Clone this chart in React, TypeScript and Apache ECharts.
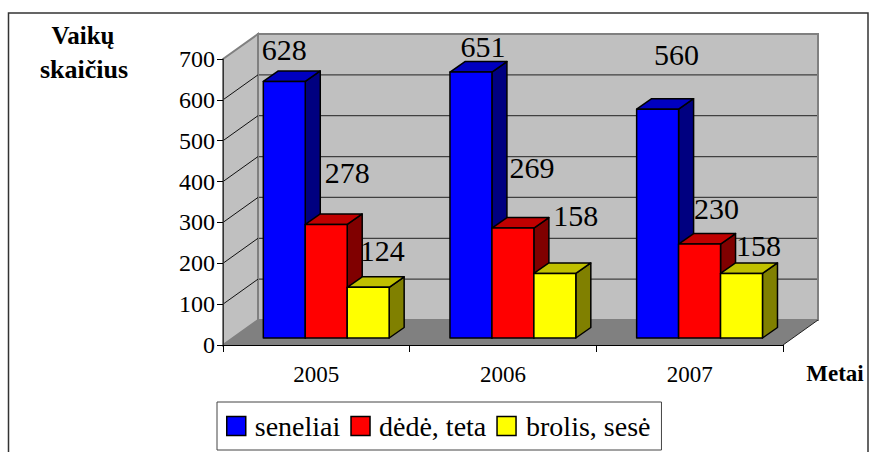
import React, { useEffect, useRef } from "react";
import * as echarts from "echarts";

const categories = ["2005", "2006", "2007"];
const seriesNames = ["seneliai", "dėdė, teta", "brolis, sesė"];
const seneliai = [628, 651, 560];
const dedeTeta = [278, 269, 230];
const brolisSese = [124, 158, 158];
const yTicks = [0, 100, 200, 300, 400, 500, 600, 700];
const xTitle = "Metai";
const yTitle = ["Vaikų", "skaičius"];

const seriesValues = [seneliai, dedeTeta, brolisSese];
const faceColors = [
  { front: "#0000ff", top: "#0000c0", side: "#000080" },
  { front: "#ff0000", top: "#c00000", side: "#800000" },
  { front: "#ffff00", top: "#c0c000", side: "#808000" },
];
// hand-placed label offsets from the top-front centre of each bar
const labelOffsets = [
  [[0, -32], [12, -26], [19, -55]],
  [[21, -52], [19, -61], [17, -36]],
  [[14, -37], [21, -58], [17, -28]],
];
// legend text paddings per item: [top, right, bottom, left]
const legendTextPadding = [[0, 0, 0, 4], [0, 0, 0, 4], [0, 0, 0, 5]];

const FONT = '"Liberation Serif", "Times New Roman", serif';
const WALL = { dx: 35, dy: -25 };
const BAR_FRONT = { dx: 9.9, dy: -7 };
const BAR_DEPTH = { dx: 15, dy: -10.5 };
const BAR_DIVISOR = 4.45;

function wallsRender(params: any, api: any) {
  const cs = params.coordSys;
  const x0 = cs.x;
  const x1 = cs.x + cs.width;
  const yBase = api.coord([0, 0])[1];
  const yTop = api.coord([0, yTicks[yTicks.length - 1]])[1];
  const { dx, dy } = WALL;
  const children: any[] = [
    {
      type: "polygon",
      shape: { points: [[x0 + dx, yTop + dy], [x1 + dx, yTop + dy], [x1 + dx, yBase + dy], [x0 + dx, yBase + dy]] },
      style: { fill: "#c0c0c0", stroke: "#808080", lineWidth: 2 },
    },
    {
      type: "polygon",
      shape: { points: [[x0, yTop], [x0 + dx, yTop + dy], [x0 + dx, yBase + dy], [x0, yBase]] },
      style: { fill: "#c0c0c0", stroke: "#808080", lineWidth: 2 },
    },
    {
      type: "polygon",
      shape: { points: [[x0, yBase], [x0 + dx, yBase + dy], [x1 + dx, yBase + dy], [x1, yBase]] },
      style: { fill: "#808080" },
    },
    {
      type: "line",
      shape: { x1: x1, y1: yBase, x2: x1 + dx, y2: yBase + dy },
      style: { stroke: "#222222", lineWidth: 1 },
    },
  ];
  yTicks.slice(1, -1).forEach((t) => {
    const y = api.coord([0, t])[1];
    children.push({
      type: "polyline",
      shape: { points: [[x0, y], [x0 + dx, y + dy]] },
      style: { stroke: "#111111", lineWidth: 1, fill: "none" },
    });
    children.push({
      type: "line",
      shape: { x1: x0 + dx + 1, y1: y + dy, x2: x1 + dx - 1, y2: y + dy },
      style: { stroke: "#404040", lineWidth: 1.3 },
    });
  });
  return { type: "group", children };
}

function barRender(seriesIdx: number) {
  return (params: any, api: any) => {
    const cat = api.value(0);
    const val = api.value(1);
    const cx = api.coord([cat, 0])[0];
    const band = api.size([1, 0])[0];
    const w = band / BAR_DIVISOR;
    const left = cx + (seriesIdx - 1.5) * w + BAR_FRONT.dx;
    const right = left + w;
    const bottom = api.coord([cat, 0])[1] + BAR_FRONT.dy;
    const top = api.coord([cat, val])[1] + BAR_FRONT.dy;
    const { dx, dy } = BAR_DEPTH;
    const c = faceColors[seriesIdx];
    const edge = { stroke: "#000000", lineWidth: 1.5, lineJoin: "round" };
    return {
      type: "group",
      children: [
        {
          type: "polygon",
          shape: { points: [[right, top], [right + dx, top + dy], [right + dx, bottom + dy], [right, bottom]] },
          style: { fill: c.side, ...edge },
        },
        {
          type: "polygon",
          shape: { points: [[left, top], [left + dx, top + dy], [right + dx, top + dy], [right, top]] },
          style: { fill: c.top, ...edge },
        },
        {
          type: "polygon",
          shape: { points: [[left, top], [right, top], [right, bottom], [left, bottom]] },
          style: { fill: c.front, ...edge },
        },
      ],
    };
  };
}

function labelRender(seriesIdx: number) {
  return (params: any, api: any) => {
    const cat = api.value(0);
    const val = api.value(1);
    const cx = api.coord([cat, 0])[0];
    const w = api.size([1, 0])[0] / BAR_DIVISOR;
    const centre = cx + (seriesIdx - 1) * w + BAR_FRONT.dx;
    const top = api.coord([cat, val])[1] + BAR_FRONT.dy;
    const off = labelOffsets[seriesIdx][params.dataIndex];
    return {
      type: "text",
      z2: 50,
      style: {
        text: String(val),
        x: centre + off[0],
        y: top + off[1],
        align: "center",
        verticalAlign: "middle",
        fontFamily: FONT,
        fontSize: 30,
        fill: "#000000",
      },
    };
  };
}

export default function App() {
  const ref = useRef<HTMLDivElement>(null);
  useEffect(() => {
    document.body.style.margin = "0";
    const chart = echarts.init(ref.current!, undefined, { renderer: "svg" });
    const dataOf = (vals: number[]) => vals.map((v, i) => [i, v]);
    chart.setOption({
      animation: false,
      backgroundColor: "#ffffff",
      textStyle: { fontFamily: FONT },
      grid: { left: 223, right: 86, top: 59, bottom: 107, containLabel: false },
      xAxis: {
        type: "category",
        data: categories,
        z: 10,
        axisLine: { lineStyle: { color: "#000000", width: 1 } },
        axisTick: { show: true, length: 7, lineStyle: { color: "#000000" } },
        axisLabel: { fontFamily: FONT, fontSize: 23, color: "#000000", margin: 18 },
        splitLine: { show: false },
      },
      yAxis: {
        type: "value",
        min: 0,
        max: 700,
        interval: 100,
        z: 10,
        axisLine: { show: true, lineStyle: { color: "#333333", width: 1 } },
        axisTick: { show: true, length: 6, lineStyle: { color: "#000000" } },
        axisLabel: { fontFamily: FONT, fontSize: 24, color: "#000000", margin: 8 },
        splitLine: { show: false },
      },
      legend: {
        show: true,
        left: 217,
        top: 402,
        orient: "horizontal",
        padding: [10, 11, 10, 9],
        itemGap: 10,
        itemWidth: 19,
        itemHeight: 19,
        borderColor: "#444444",
        borderWidth: 1,
        backgroundColor: "#ffffff",
        selectedMode: false,
        textStyle: { fontFamily: FONT, fontSize: 28, color: "#000000" },
        data: seriesNames.map((n, i) => ({
          name: n,
          icon: "rect",
          itemStyle: { color: faceColors[i].front, borderColor: "#000000", borderWidth: 1.5 },
          textStyle: { fontFamily: FONT, fontSize: 28, color: "#000000", padding: legendTextPadding[i] },
        })),
      },
      graphic: [
        {
          type: "rect",
          silent: true,
          z: -1,
          shape: { x: 8.5, y: 13, width: 859.5, height: 460 },
          style: { fill: "none", stroke: "#333333", lineWidth: 1.5 },
        },
        {
          type: "text",
          style: { text: yTitle[0], x: 83, y: 35, align: "center", verticalAlign: "middle", fontFamily: FONT, fontWeight: "bold", fontSize: 25, fill: "#000000" },
        },
        {
          type: "text",
          style: { text: yTitle[1], x: 84, y: 69, align: "center", verticalAlign: "middle", fontFamily: FONT, fontWeight: "bold", fontSize: 26, fill: "#000000" },
        },
        {
          type: "text",
          style: { text: xTitle, x: 835, y: 373, align: "center", verticalAlign: "middle", fontFamily: FONT, fontWeight: "bold", fontSize: 23, fill: "#000000" },
        },
      ],
      series: [
        {
          type: "custom",
          name: "walls",
          z: 1,
          silent: true,
          data: [[0, 0]],
          renderItem: wallsRender,
        },
        ...seriesNames.map((n, i) => ({
          type: "custom",
          name: n,
          z: 2 + i,
          silent: true,
          itemStyle: { color: faceColors[i].front },
          data: dataOf(seriesValues[i]),
          renderItem: barRender(i),
        })),
        ...seriesNames.map((n, i) => ({
          type: "custom",
          name: "label " + n,
          z: 8,
          silent: true,
          data: dataOf(seriesValues[i]),
          renderItem: labelRender(i),
        })),
      ],
    });
    return () => chart.dispose();
  }, []);
  return <div ref={ref} style={{ width: 869, height: 452, position: "absolute", left: 0, top: 0, overflow: "hidden" }} />;
}
